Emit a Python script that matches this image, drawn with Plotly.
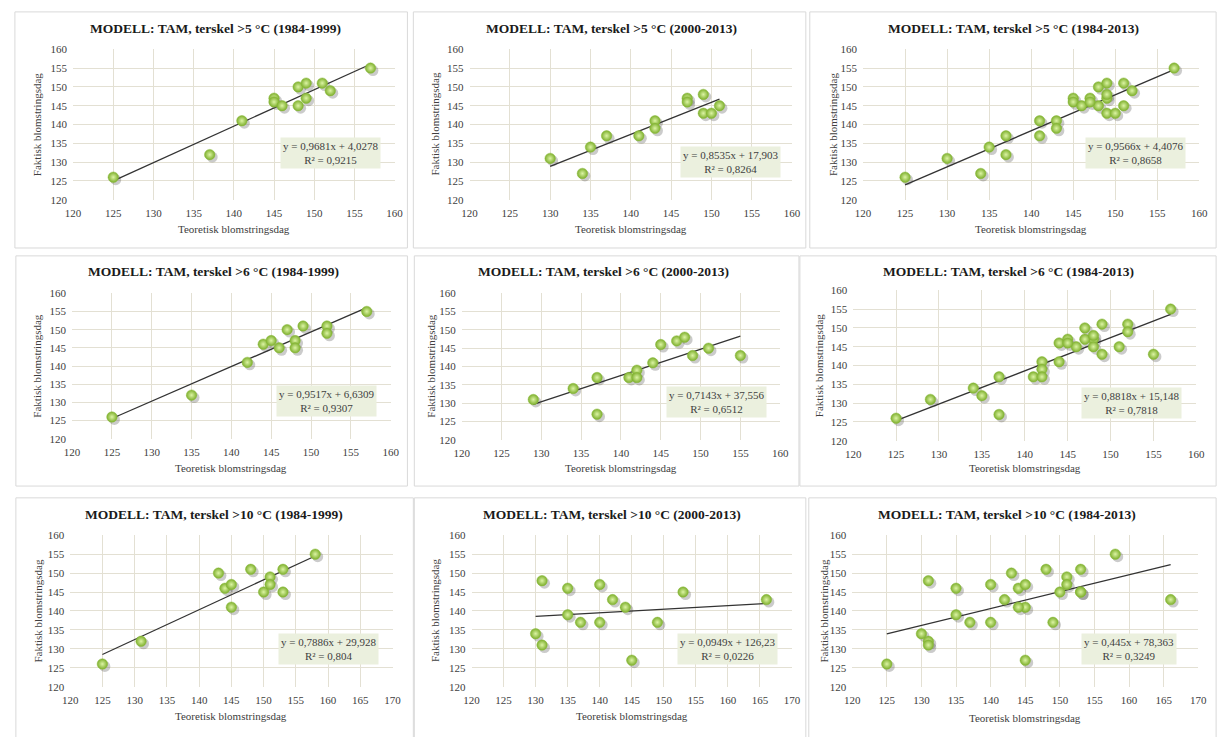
import plotly.graph_objects as go

W, H = 1232, 737

# ---------------- data ----------------
titles = [
    "MODELL: TAM, terskel >5 °C (1984-1999)",
    "MODELL: TAM, terskel >5 °C (2000-2013)",
    "MODELL: TAM, terskel >5 °C (1984-2013)",
    "MODELL: TAM, terskel >6 °C (1984-1999)",
    "MODELL: TAM, terskel >6 °C (2000-2013)",
    "MODELL: TAM, terskel >6 °C (1984-2013)",
    "MODELL: TAM, terskel >10 °C (1984-1999)",
    "MODELL: TAM, terskel >10 °C (2000-2013)",
    "MODELL: TAM, terskel >10 °C (1984-2013)",
]

x_5_early = [125, 137, 141, 145, 145, 146, 148, 148, 149, 149, 151, 152, 157]
y_5_early = [126, 132, 141, 147, 146, 145, 150, 145, 151, 147, 151, 149, 155]
x_5_late = [130, 134, 135, 137, 141, 143, 143, 147, 147, 149, 149, 150, 151]
y_5_late = [131, 127, 134, 137, 137, 141, 139, 147, 146, 148, 143, 143, 145]

x_6_early = [125, 135, 142, 144, 145, 146, 147, 148, 148, 149, 152, 152, 157]
y_6_early = [126, 132, 141, 146, 147, 145, 150, 147, 145, 151, 151, 149, 155]
x_6_late = [129, 134, 137, 137, 141, 142, 142, 144, 145, 147, 148, 149, 151, 155]
y_6_late = [131, 134, 137, 127, 137, 139, 137, 141, 146, 147, 148, 143, 145, 143]

x_10_early = [125, 131, 143, 144, 145, 145, 148, 150, 151, 151, 153, 153, 158]
y_10_early = [126, 132, 150, 146, 147, 141, 151, 145, 149, 147, 151, 145, 155]
x_10_late = [130, 131, 131, 135, 135, 137, 140, 140, 142, 144, 145, 149, 153, 166]
y_10_late = [134, 148, 131, 146, 139, 137, 147, 137, 143, 141, 127, 137, 145, 143]

slopes = [0.9681, 0.8535, 0.9566, 0.9517, 0.7143, 0.8818, 0.7886, 0.0949, 0.445]
intercepts = [4.0278, 17.903, 4.4076, 6.6309, 37.556, 15.148, 29.928, 126.23, 78.363]
eq_labels = [
    "y = 0,9681x + 4,0278", "y = 0,8535x + 17,903", "y = 0,9566x + 4,4076",
    "y = 0,9517x + 6,6309", "y = 0,7143x + 37,556", "y = 0,8818x + 15,148",
    "y = 0,7886x + 29,928", "y = 0,0949x + 126,23", "y = 0,445x + 78,363",
]
r2_labels = [
    "R² = 0,9215", "R² = 0,8264", "R² = 0,8658",
    "R² = 0,9307", "R² = 0,6512", "R² = 0,7818",
    "R² = 0,804", "R² = 0,0226", "R² = 0,3249",
]

x_title = "Teoretisk blomstringsdag"
y_title = "Faktisk blomstringsdag"
x_ranges = [[120, 160]] * 6 + [[120, 170]] * 3
y_range = [120, 160]

xs = [x_5_early, x_5_late, x_5_early + x_5_late,
      x_6_early, x_6_late, x_6_early + x_6_late,
      x_10_early, x_10_late, x_10_early + x_10_late]
ys = [y_5_early, y_5_late, y_5_early + y_5_late,
      y_6_early, y_6_late, y_6_early + y_6_late,
      y_10_early, y_10_late, y_10_early + y_10_late]

# ---------------- layout (pixels) ----------------
plot_px = [  # x0, x1, ytop, ybottom
    (66, 392, 44, 197), (468, 795, 44, 197), (867, 1208, 44, 197),
    (65, 388, 292, 440), (460, 783, 292, 441), (857, 1205, 289, 442),
    (63, 390, 538, 692), (470, 795, 538, 692), (856, 1207, 538, 692),
]
border_px = [
    (7, 405, 6, 246), (411, 809, 6, 246), (813, 1225, 6, 246),
    (8, 405, 254, 488), (412, 802, 254, 488), (803, 1225, 254, 488),
    (8, 411, 500, 745), (412, 809, 500, 745), (812, 1225, 500, 745),
]
title_pos = [(210, 23), (612, 23), (1020, 23),
             (208, 270), (604, 270), (1015, 270),
             (209, 517), (612, 517), (1013, 517)]
ytitle_x = [29, 433, 836, 29, 428, 822, 30, 433, 827]
xtitle_y = [227, 227, 227, 470, 470, 470, 722, 722, 724]
box_pos = [(0.80, 0.31), (0.81, 0.25), (0.81, 0.31),
           (0.80, 0.26), (0.80, 0.26), (0.81, 0.25),
           (0.80, 0.25), (0.80, 0.25), (0.80, 0.25)]
SHADOW_PX = 2.5


def px(x):
    return x / W


def py(y):
    return 1 - y / H


FONT = "Liberation Serif, Times New Roman, serif"
GRID = "#e3e0d3"
TXT = "#404040"

fig = go.Figure()
shapes = []
annotations = []
layout = dict(
    width=W, height=H,
    margin=dict(l=0, r=0, t=0, b=0),
    paper_bgcolor="white", plot_bgcolor="white",
    showlegend=False,
    font=dict(family=FONT, size=11, color=TXT),
)

for i in range(9):
    n = i + 1
    b = "" if n == 1 else str(n)        # base (shadow) axes
    m = str(n + 9)                      # main visible overlay axes
    x0, x1, yt, yb = plot_px[i]
    xr, yr = x_ranges[i], y_range
    dx = SHADOW_PX * (xr[1] - xr[0]) / (x1 - x0)
    dy = SHADOW_PX * (yr[1] - yr[0]) / (yb - yt)

    layout["xaxis" + b] = dict(
        domain=[px(x0), px(x1)], range=[xr[0] - dx, xr[1] - dx],
        anchor="y" + b, visible=False, showgrid=False, fixedrange=True,
    )
    layout["yaxis" + b] = dict(
        domain=[py(yb), py(yt)], range=[yr[0] + dy, yr[1] + dy],
        anchor="x" + b, visible=False, showgrid=False, fixedrange=True,
    )
    layout["xaxis" + m] = dict(
        domain=[px(x0), px(x1)], range=xr, dtick=5, tick0=120,
        overlaying="x" + b, anchor="y" + m, side="bottom",
        showgrid=True, gridcolor=GRID, gridwidth=1,
        zeroline=False, showline=False, ticks="", ticklabelstandoff=5,
        tickfont=dict(family=FONT, size=11, color=TXT), fixedrange=True,
    )
    layout["yaxis" + m] = dict(
        domain=[py(yb), py(yt)], range=yr, dtick=5, tick0=120,
        overlaying="y" + b, anchor="x" + m, side="left",
        showgrid=True, gridcolor=GRID, gridwidth=1,
        zeroline=False, showline=False, ticks="", ticklabelstandoff=5,
        tickfont=dict(family=FONT, size=11, color=TXT), fixedrange=True,
    )

    # soft shadow of the spheres
    fig.add_trace(go.Scatter(
        x=xs[i], y=ys[i], mode="markers",
        marker=dict(size=11, color="rgba(70,70,70,0.28)", line=dict(width=0)),
        xaxis="x" + b, yaxis="y" + b, hoverinfo="skip",
    ))

    xmin, xmax = min(xs[i]), max(xs[i])
    fig.add_trace(go.Scatter(
        x=[xmin, xmax],
        y=[slopes[i] * xmin + intercepts[i], slopes[i] * xmax + intercepts[i]],
        mode="lines", line=dict(color="#333333", width=1.3),
        xaxis="x" + m, yaxis="y" + m, hoverinfo="skip",
    ))
    fig.add_trace(go.Scatter(
        x=xs[i], y=ys[i], mode="markers",
        marker=dict(size=10.5, color="#7daf2c",
                    gradient=dict(type="radial", color="#dcf4a4"),
                    line=dict(width=0.5, color="#8aba3c")),
        xaxis="x" + m, yaxis="y" + m,
    ))

    bx0, bx1, byt, byb = border_px[i]
    shapes.append(dict(type="rect", xref="paper", yref="paper",
                       x0=px(bx0), x1=px(bx1), y0=py(byb), y1=py(byt),
                       line=dict(color="#d9d9d9", width=1), layer="below"))

    tx, ty = title_pos[i]
    annotations.append(dict(
        text="<b>" + titles[i] + "</b>", xref="paper", yref="paper",
        x=px(tx), y=py(ty), xanchor="center", yanchor="middle", showarrow=False,
        font=dict(family=FONT, size=13.5, color="#1a1a1a"),
    ))
    annotations.append(dict(
        text=x_title, xref="paper", yref="paper",
        x=px((x0 + x1) / 2), y=py(xtitle_y[i]), xanchor="center", yanchor="middle",
        showarrow=False, font=dict(family=FONT, size=11, color=TXT),
    ))
    annotations.append(dict(
        text=y_title, xref="paper", yref="paper", textangle=-90,
        x=px(ytitle_x[i]), y=py((yt + yb) / 2), xanchor="center", yanchor="middle",
        showarrow=False, font=dict(family=FONT, size=11, color=TXT),
    ))
    bxp, byp = box_pos[i]
    annotations.append(dict(
        text=eq_labels[i] + "<br>" + r2_labels[i],
        xref="x" + m + " domain", yref="y" + m + " domain",
        x=bxp, y=byp, xanchor="center", yanchor="middle", showarrow=False,
        align="center", bgcolor="#ebf0de", borderpad=2,
        font=dict(family=FONT, size=11, color=TXT),
    ))

layout["shapes"] = shapes
layout["annotations"] = annotations
fig.update_layout(**layout)

fig.write_html(
    "out.html",
    config={"displayModeBar": False},
    post_script="document.body.style.margin='0';document.body.style.overflow='hidden';",
)
